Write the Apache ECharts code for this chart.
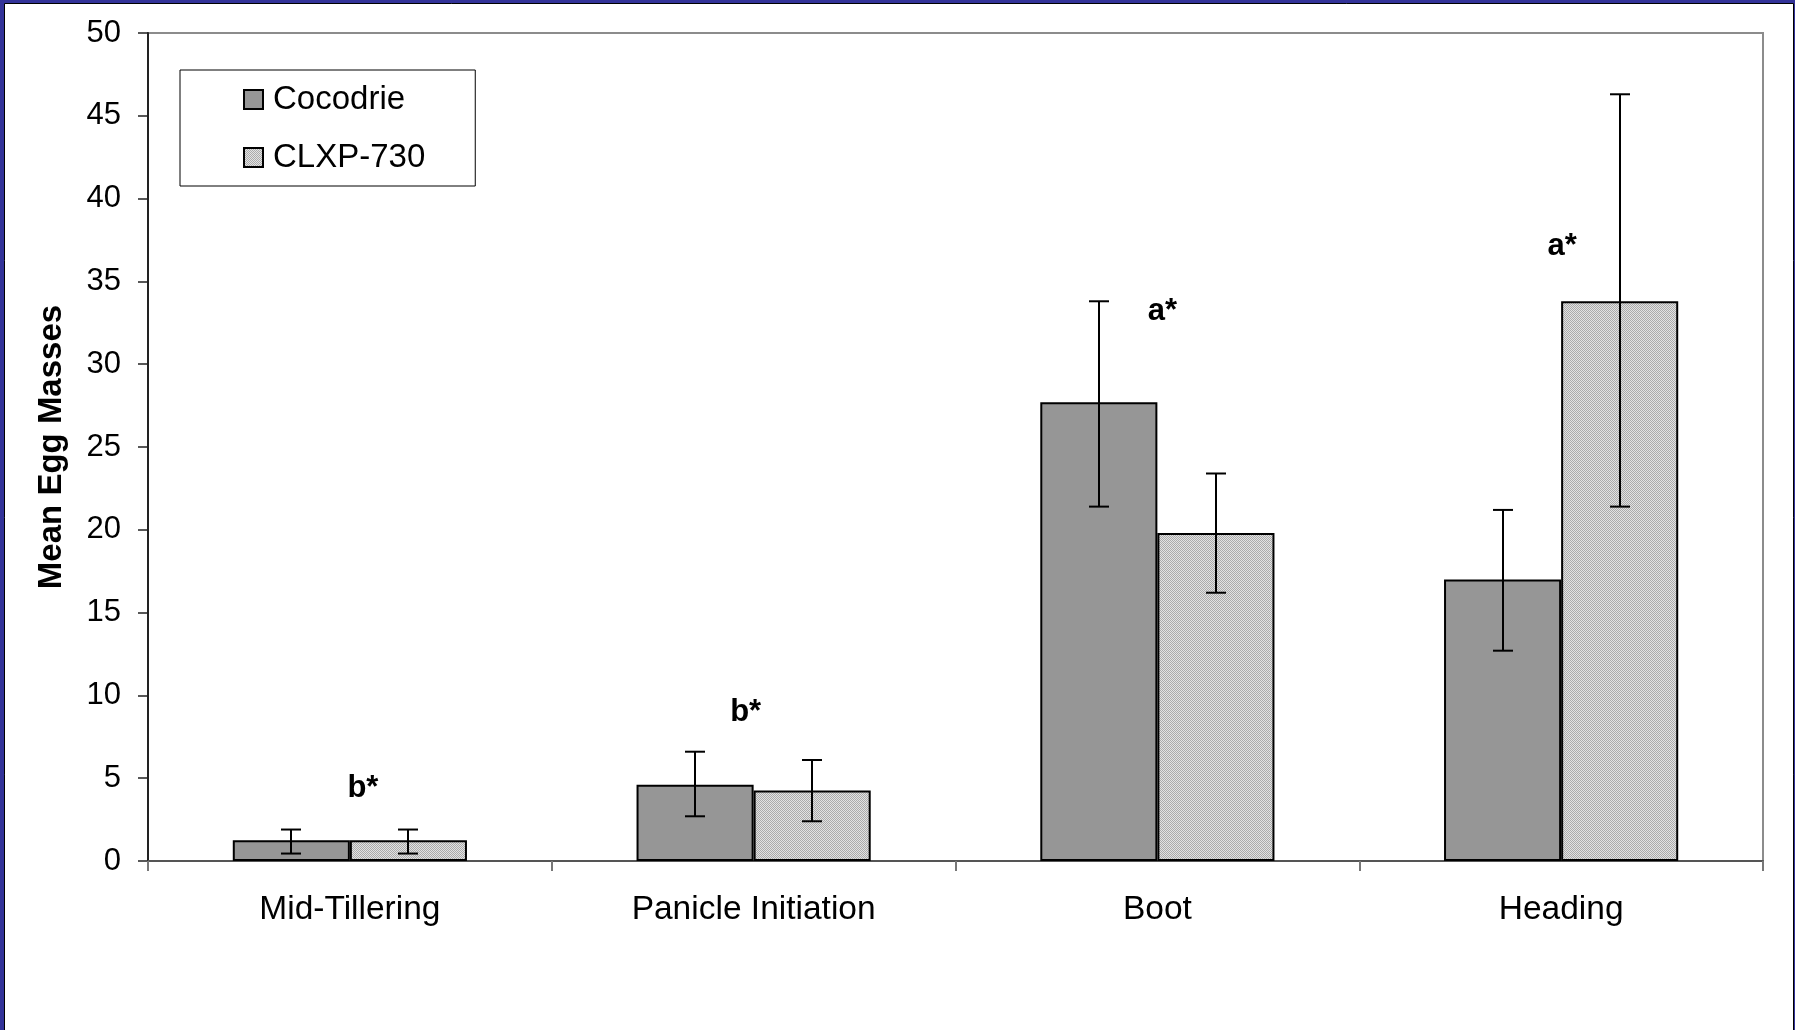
<!DOCTYPE html>
<html><head><meta charset="utf-8">
<script src="https://cdn.jsdelivr.net/npm/echarts@6/dist/echarts.min.js"></script>
<style>html,body{margin:0;padding:0;background:#333399;}#c{width:1795px;height:1030px;}</style>
</head><body><div id="c"></div>
<script>
// ---- data ----
const categories = ['Mid-Tillering', 'Panicle Initiation', 'Boot', 'Heading'];
const seriesNames = ['Cocodrie', 'CLXP-730'];
const cocodrie = [1.25, 4.6, 27.7, 17.0];
const clxp = [1.25, 4.25, 19.8, 33.8];
const cocodrieLow = [0.45, 2.7, 21.4, 12.7];
const cocodrieHigh = [1.9, 6.6, 33.8, 21.2];
const clxpLow = [0.45, 2.4, 16.2, 21.4];
const clxpHigh = [1.9, 6.1, 23.4, 46.3];
const letters = ['b*', 'b*', 'a*', 'a*'];
const letterY = [4.4, 9.0, 33.2, 37.1];
const yTicks = [0, 5, 10, 15, 20, 25, 30, 35, 40, 45, 50];

// ---- styles ----
const FONT = 'Liberation Sans, Arial, Helvetica, sans-serif';
const BAR_FRAC = 0.29;
const letterNudgeX = [13, -8, 5, 1]; // label offsets in px (style only)

function makePattern() {
  const cv = document.createElement('canvas');
  cv.width = 2; cv.height = 2;
  const ctx = cv.getContext('2d');
  ctx.fillStyle = '#e2e2e2'; ctx.fillRect(0, 0, 2, 2);
  ctx.fillStyle = '#aaaaaa'; ctx.fillRect(0, 0, 1, 1); ctx.fillRect(1, 1, 1, 1);
  return { image: cv, repeat: 'repeat' };
}
const pattern = makePattern();

function errRender(sign) {
  return function (params, api) {
    const x = api.value(0), lo = api.value(1), hi = api.value(2);
    const bw = api.size([1, 0])[0] * BAR_FRAC;
    const pLo = api.coord([x, lo]), pHi = api.coord([x, hi]);
    const cx = Math.round(pLo[0] + sign * bw / 2);
    const cap = 10;
    const st = { stroke: '#000', lineWidth: 2 };
    return {
      type: 'group', children: [
        { type: 'line', shape: { x1: cx, y1: pHi[1], x2: cx, y2: pLo[1] }, style: st },
        { type: 'line', shape: { x1: cx - cap, y1: pHi[1], x2: cx + cap, y2: pHi[1] }, style: st },
        { type: 'line', shape: { x1: cx - cap, y1: pLo[1], x2: cx + cap, y2: pLo[1] }, style: st }
      ]
    };
  };
}

const letterLabel = {
  show: true, position: 'inside',
  fontFamily: FONT, fontSize: 31, fontWeight: 'bold', color: '#000',
  textBorderWidth: 0, textBorderColor: 'transparent', opacity: 1
};

const chart = echarts.init(document.getElementById('c'), null, { renderer: 'canvas' });
const option = {
  backgroundColor: '#333399',
  animation: false,
  graphic: [{
    type: 'rect', z: -100, silent: true,
    shape: { x: 4.5, y: 3.5, width: 1789, height: 1040 },
    style: { fill: '#fff', stroke: '#000', lineWidth: 1 }
  }],
  grid: {
    left: 148, right: 32, top: 33, bottom: 169,
    show: true, borderColor: '#8c8c8c', borderWidth: 2, backgroundColor: 'transparent'
  },
  legend: {
    data: seriesNames,
    orient: 'vertical',
    left: 180, top: 70,
    padding: [13, 50, 12, 63],
    itemGap: 25,
    itemWidth: 19, itemHeight: 19,
    backgroundColor: '#fff',
    borderColor: '#000', borderWidth: 1,
    icon: 'rect',
    textStyle: { fontFamily: FONT, fontSize: 33, color: '#000', padding: [0, 0, 0, 5] }
  },
  xAxis: {
    type: 'category',
    data: categories,
    axisLine: { lineStyle: { color: '#555', width: 2 } },
    axisTick: { show: true, length: 10, lineStyle: { color: '#777', width: 2 } },
    axisLabel: { fontFamily: FONT, fontSize: 33.5, color: '#000', margin: 32 },
    splitLine: { show: false }
  },
  yAxis: {
    type: 'value',
    min: 0, max: 50, interval: 5,
    name: 'Mean Egg Masses',
    nameLocation: 'middle',
    nameRotate: 90,
    nameGap: 80,
    nameTextStyle: { fontFamily: FONT, fontSize: 33, fontWeight: 'bold', color: '#000' },
    axisLine: { show: true, lineStyle: { color: '#222', width: 2 } },
    axisTick: { show: true, length: 10, lineStyle: { color: '#222', width: 1.5 } },
    axisLabel: {
      fontFamily: FONT, fontSize: 31, color: '#000', margin: 27,
      formatter: function (v) { return yTicks.indexOf(v) >= 0 ? String(v) : ''; }
    },
    splitLine: { show: false }
  },
  series: [
    {
      name: seriesNames[0], type: 'bar', data: cocodrie,
      barWidth: (BAR_FRAC * 100) + '%', barGap: '0%',
      itemStyle: { color: '#969696', borderColor: '#000', borderWidth: 2 },
      z: 2
    },
    {
      name: seriesNames[1], type: 'bar', data: clxp,
      barWidth: (BAR_FRAC * 100) + '%', barGap: '0%',
      itemStyle: { color: pattern, borderColor: '#000', borderWidth: 2 },
      z: 2
    },
    {
      type: 'custom', name: 'errA', z: 5,
      renderItem: errRender(-1),
      data: categories.map((c, i) => [i, cocodrieLow[i], cocodrieHigh[i]]),
      encode: { x: 0, y: [1, 2] }
    },
    {
      type: 'custom', name: 'errB', z: 5,
      renderItem: errRender(1),
      data: categories.map((c, i) => [i, clxpLow[i], clxpHigh[i]]),
      encode: { x: 0, y: [1, 2] }
    },
    {
      type: 'scatter', name: 'letters', symbolSize: 0, z: 6,
      itemStyle: { color: '#000', opacity: 1 },
      data: categories.map((c, i) => ({
        value: [i, letterY[i]],
        name: letters[i],
        itemStyle: { opacity: 1 },
        label: Object.assign({}, letterLabel, { offset: [letterNudgeX[i], 0] })
      })),
      label: Object.assign({ formatter: function (p) { return p.name; } }, letterLabel)
    }
  ]
};
chart.setOption(option);
</script>
</body></html>
